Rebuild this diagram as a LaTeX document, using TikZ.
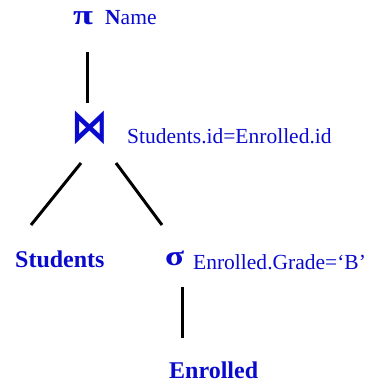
\documentclass[tikz,border=0pt]{standalone}
\usepackage{fontspec}
\setmainfont{Liberation Serif}
\newfontfamily\symfont{DejaVu Sans}
\definecolor{opblue}{RGB}{10,10,205}
\tikzset{
  op/.style={inner sep=0pt, text=opblue, text height=14pt, text depth=0pt, font=\bfseries\fontsize{28}{28}\selectfont},
  lbl/.style={inner sep=0pt, anchor=base west, text=opblue, font=\fontsize{21.5}{22}\selectfont},
  rel/.style={inner sep=0pt, anchor=base west, text=opblue, font=\bfseries\fontsize{24}{24}\selectfont},
  edge/.style={line width=3pt, black}
}
\begin{document}
\begin{tikzpicture}[x=1pt,y=1pt]
\useasboundingbox (0,0) rectangle (372,-385);
% operators
\node[op, anchor=base west] (pi) at (73,-25) {\scalebox{1.3}[1]{π}};
\node[lbl] (pilbl) at (105,-25) {\textbf{N}ame};
\node[op, text height=24pt, font=\symfont\bfseries\fontsize{36}{36}\selectfont] (join) at (90,-130) {\scalebox{1.02}[1.3]{⋈}};
\node[lbl] (joinlbl) at (127,-143) {Students.id=Enrolled.id};
\node[rel] (students) at (15,-267) {Students};
\node[op, anchor=base west] (sigma) at (165,-265) {\scalebox{1.25}[1]{σ}};
\node[lbl] (sigmalbl) at (193,-269) {Enrolled.Grade=‘B’};
\node[rel] (enrolled) at (169,-378) {Enrolled};
% connector end points
\coordinate (pi-b) at (87,-52);
\coordinate (join-t) at (87,-103);
\coordinate (join-l) at (81,-163);
\coordinate (join-r) at (116,-163);
\coordinate (stu-t) at (31,-225);
\coordinate (sig-t) at (162,-225);
\coordinate (sig-b) at (182,-287);
\coordinate (enr-t) at (182,-338);
\draw[edge] (pi-b) -- (join-t);
\draw[edge] (join-l) -- (stu-t);
\draw[edge] (join-r) -- (sig-t);
\draw[edge] (sig-b) -- (enr-t);
\end{tikzpicture}
\end{document}
